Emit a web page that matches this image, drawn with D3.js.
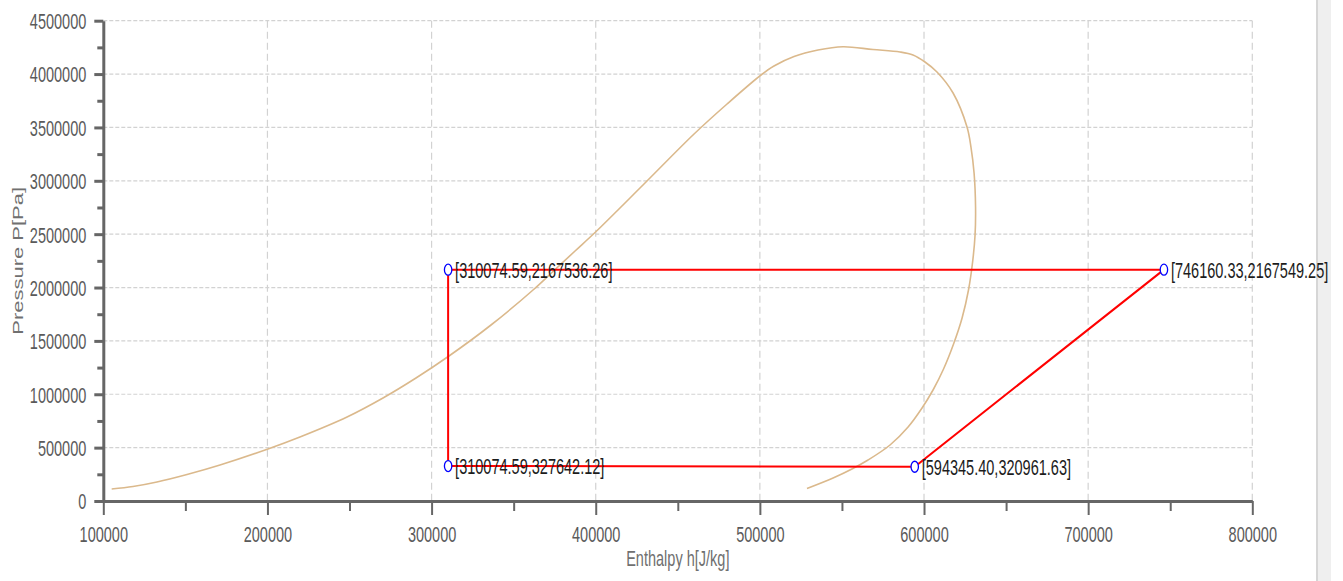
<!DOCTYPE html>
<html>
<head>
<meta charset="utf-8">
<script src="https://cdn.jsdelivr.net/npm/d3@7"></script>
<style>
  html, body { margin: 0; padding: 0; background: #fff; overflow: hidden; }
  svg { display: block; }
  text { font-family: "Liberation Sans", Arial, sans-serif; }
</style>
</head>
<body>
<script>
// Axis ticks
const enthalpyTicks = [100000, 200000, 300000, 400000, 500000, 600000, 700000, 800000];
const enthalpyMinor = [150000, 250000, 350000, 450000, 550000, 650000, 750000];
const pressureTicks = [0, 500000, 1000000, 1500000, 2000000, 2500000, 3000000, 3500000, 4000000, 4500000];
const pressureMinor = [250000, 750000, 1250000, 1750000, 2250000, 2750000, 3250000, 3750000, 4250000];

// Saturation dome: liquid line up to the critical region, then vapour line down
const domeEnthalpy = [
  105100, 118100, 132700, 151000, 171100, 200300, 219800, 248500, 270400, 290500,
  310600, 336200, 361800, 374600, 387400, 400200, 429400, 459900, 480000, 500700,
  508600, 520800, 535400, 550700, 568900, 585400, 593300, 600600, 607900, 617700,
  626200, 628600, 630500, 631400, 631100, 629600, 627100, 623200, 618000, 611900,
  605500, 598800, 590300, 579300, 565900, 556100, 544600, 528700
];
const domePressure = [
  112400, 135900, 178000, 248300, 337300, 487200, 599600, 787000, 965000, 1152400,
  1358500, 1649000, 1976900, 2159600, 2342300, 2524900, 2970000, 3438400, 3719500, 3991200,
  4075500, 4164500, 4225400, 4256000, 4230100, 4206700, 4178600, 4113000, 4019300, 3822600,
  3504000, 3316600, 3073000, 2754500, 2492200, 2239200, 1976900, 1714500, 1470900, 1236700,
  1040000, 871300, 693300, 524700, 384100, 299800, 215500, 117100
];

// Refrigeration cycle state points
const cycleEnthalpy = [310074.59, 310074.59, 594345.40, 746160.33];
const cyclePressure = [2167536.26, 327642.12, 320961.63, 2167549.25];

const W = 1343, H = 581;
const SX = 0.66;               // horizontal squeeze applied to all text
const FONT = 22;

const svg = d3.select("body").append("svg").attr("width", W).attr("height", H);

const x = d3.scaleLinear().domain([100000, 800000]).range([103.3, 1252.3]);
const y = d3.scaleLinear().domain([0, 4500000]).range([501, 20.7]);

// Scrollbar strip on the right
svg.append("rect").attr("x", 1316).attr("y", 0).attr("width", 15).attr("height", H).attr("fill", "#efefef");
svg.append("line").attr("x1", 1317).attr("x2", 1317).attr("y1", 0).attr("y2", H)
  .attr("stroke", "#d6d6d6").attr("stroke-width", 2);

// Grid
const grid = svg.append("g");
grid.selectAll("line.v").data(enthalpyTicks.slice(1)).join("line")
  .attr("class", "v")
  .attr("x1", d => x(d)).attr("x2", d => x(d))
  .attr("y1", y(4500000)).attr("y2", y(0))
  .attr("stroke", "#d2d2d2").attr("stroke-width", 1.2).attr("stroke-dasharray", "7,4");
grid.selectAll("line.h").data(pressureTicks.slice(1)).join("line")
  .attr("class", "h")
  .attr("x1", x(100000)).attr("x2", x(800000))
  .attr("y1", d => y(d)).attr("y2", d => y(d))
  .attr("stroke", "#d2d2d2").attr("stroke-width", 1.2).attr("stroke-dasharray", "4,2");

// Dome
const domePts = domeEnthalpy.map((h, i) => [h, domePressure[i]]);
svg.append("path")
  .datum(domePts)
  .attr("d", d3.line().x(d => x(d[0])).y(d => y(d[1])).curve(d3.curveCatmullRom.alpha(0.5)))
  .attr("fill", "none").attr("stroke", "#dbb98c").attr("stroke-width", 1.6);

// Axes
const AX = "#666";
function styleAxis(g) {
  g.attr("font-size", null).attr("font-family", null);
  g.selectAll("line").attr("stroke", AX);
  g.select(".domain").attr("stroke", AX).attr("stroke-width", 3);
}

const gxMinor = svg.append("g").attr("transform", `translate(0,${y(0)})`)
  .call(d3.axisBottom(x).tickValues(enthalpyMinor).tickSize(10).tickSizeOuter(0).tickFormat(""));
gxMinor.select(".domain").remove();
gxMinor.selectAll("line").attr("stroke", AX).attr("stroke-width", 2);

const gyMinor = svg.append("g").attr("transform", `translate(${x(100000)},0)`)
  .call(d3.axisLeft(y).tickValues(pressureMinor).tickSize(6).tickSizeOuter(0).tickFormat(""));
gyMinor.select(".domain").remove();
gyMinor.selectAll("line").attr("stroke", AX).attr("stroke-width", 3);

const gx = svg.append("g").attr("transform", `translate(0,${y(0)})`)
  .call(d3.axisBottom(x).tickValues(enthalpyTicks).tickSize(14).tickSizeOuter(0).tickFormat(d3.format("d")));
styleAxis(gx);
gx.selectAll(".tick line").attr("stroke-width", 2);
gx.selectAll(".tick text")
  .attr("y", 41).attr("dy", null)
  .attr("transform", `scale(${SX},1)`)
  .attr("font-size", FONT).attr("fill", "#5a5a5a");

const gy = svg.append("g").attr("transform", `translate(${x(100000)},0)`)
  .call(d3.axisLeft(y).tickValues(pressureTicks).tickSize(9).tickSizeOuter(0).tickFormat(d3.format("d")));
styleAxis(gy);
gy.selectAll(".tick line").attr("stroke-width", 3);
gy.selectAll(".tick text")
  .attr("x", -17 / SX).attr("dy", "0.36em")
  .attr("transform", `scale(${SX},1)`)
  .attr("font-size", FONT).attr("fill", "#5a5a5a");

// Axis titles
svg.append("text")
  .attr("transform", `translate(${(x(100000) + x(800000)) / 2},566) scale(${SX},1)`)
  .attr("text-anchor", "middle").attr("font-size", FONT).attr("fill", "#707070")
  .text("Enthalpy h[J/kg]");
svg.append("text")
  .attr("transform", `translate(22.7,${(y(0) + y(4500000)) / 2}) scale(${SX},1) rotate(-90)`)
  .attr("text-anchor", "middle").attr("font-size", FONT).attr("fill", "#707070")
  .text("Pressure P[Pa]");

// Cycle
const cyclePts = cycleEnthalpy.map((h, i) => [h, cyclePressure[i]]);
svg.append("path")
  .datum(cyclePts)
  .attr("d", d3.line().x(d => x(d[0])).y(d => y(d[1])).curve(d3.curveLinearClosed))
  .attr("fill", "none").attr("stroke", "#ff0000").attr("stroke-width", 2);

const pts = svg.append("g").selectAll("g").data(cyclePts).join("g")
  .attr("transform", d => `translate(${x(d[0])},${y(d[1])})`);
pts.append("ellipse")
  .attr("rx", 3.7).attr("ry", 5.5)
  .attr("fill", "#fff").attr("stroke", "#0000ff").attr("stroke-width", 1.3);
pts.append("text")
  .attr("transform", `translate(7,0) scale(${SX},1)`)
  .attr("dy", "0.36em")
  .attr("font-size", FONT).attr("fill", "#1c1c1c")
  .text(d => `[${d[0].toFixed(2)},${d[1].toFixed(2)}]`);
</script>
</body>
</html>
